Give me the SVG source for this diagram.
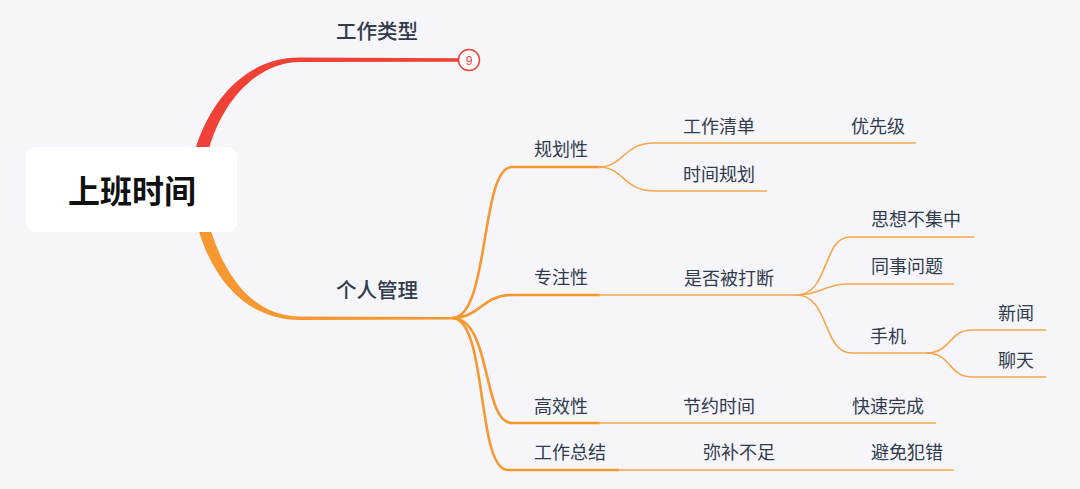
<svg xmlns="http://www.w3.org/2000/svg" width="1080" height="489" viewBox="0 0 1080 489">
<style>
.t{font-family:"Noto Sans CJK SC","Noto Sans",sans-serif;fill:#313b4b;font-size:18px;text-anchor:middle;dominant-baseline:central}
.t1{font-size:20.5px;font-weight:500}
.root{font-size:32px;font-weight:700;fill:#111}
.o1{fill:none;stroke:#f7972f;stroke-width:2.6}
.o2{fill:none;stroke:#f9a64c;stroke-width:1.6}
</style>
<rect width="1080" height="489" fill="#f5f5fa"/>
<g id="connectors">
<path d="M195,150 C212,95 250,57 300,57.5 L460,58.3 L460,61.7 L300,62 C258,62 222,100 208,152 Z" fill="#ef4136"/>
<path d="M210,228 C226,280 255,316 300,316.5 L452,317 L452,319.5 L300,320 C250,320 214,284 198,228 Z" fill="#f7972f"/>
<path class="o1" d="M452,318 C490,318 480,167 512,167 L600,167"/>
<path class="o1" d="M452,318 C480,318 482,295 512,295 L600,295"/>
<path class="o1" d="M452,318 C492,318 482,423 512,423 L600,423"/>
<path class="o1" d="M452,318 C488,318 476,470 508,470 L619,470"/>
<path class="o2" d="M598,167 C625,167 622,143 655,143 L916,143"/>
<path class="o2" d="M598,167 C625,167 622,191 655,191 L767,191"/>
<path class="o2" d="M598,295 L796,295"/>
<path class="o2" d="M598,423 L936,423"/>
<path class="o2" d="M617,470 L954,470"/>
<path class="o2" d="M796,295 C830,295 822,237 850,237 L974,237"/>
<path class="o2" d="M796,295 C820,295 825,284 848,284 L954,284"/>
<path class="o2" d="M796,295 C830,295 822,353 852,353 L930,353"/>
<path class="o2" d="M926,353 C952,353 948,330 972,330 L1046,330"/>
<path class="o2" d="M926,353 C952,353 948,377 972,377 L1046,377"/>
</g>
<g id="root">
<rect x="26" y="147" width="211" height="85" rx="9" fill="#fff"/>
<text class="t root" x="132" y="189">上班时间</text>
</g>
<g id="n-type">
<text class="t t1" x="377" y="30">工作类型</text>
<circle cx="469" cy="60" r="10.5" fill="#fff" stroke="#ef4136" stroke-width="1.5"/>
<text x="469" y="60.5" font-family="Liberation Sans,sans-serif" font-size="12" fill="#ef4136" text-anchor="middle" dominant-baseline="central">9</text>
</g>
<g id="n-mgmt"><text class="t t1" x="377" y="289">个人管理</text></g>
<g id="n1"><text class="t" x="561" y="148">规划性</text></g>
<g id="n2"><text class="t" x="719" y="125">工作清单</text></g>
<g id="n3"><text class="t" x="878" y="125">优先级</text></g>
<g id="n4"><text class="t" x="719" y="173">时间规划</text></g>
<g id="n5"><text class="t" x="561" y="276">专注性</text></g>
<g id="n6"><text class="t" x="729" y="277">是否被打断</text></g>
<g id="n7"><text class="t" x="916" y="218">思想不集中</text></g>
<g id="n8"><text class="t" x="907" y="265">同事问题</text></g>
<g id="n9"><text class="t" x="888" y="335">手机</text></g>
<g id="n10"><text class="t" x="1016" y="312">新闻</text></g>
<g id="n11"><text class="t" x="1016" y="359">聊天</text></g>
<g id="n12"><text class="t" x="561" y="405">高效性</text></g>
<g id="n13"><text class="t" x="719" y="405">节约时间</text></g>
<g id="n14"><text class="t" x="888" y="405">快速完成</text></g>
<g id="n15"><text class="t" x="570" y="451">工作总结</text></g>
<g id="n16"><text class="t" x="739" y="451">弥补不足</text></g>
<g id="n17"><text class="t" x="907" y="451">避免犯错</text></g>
</svg>
